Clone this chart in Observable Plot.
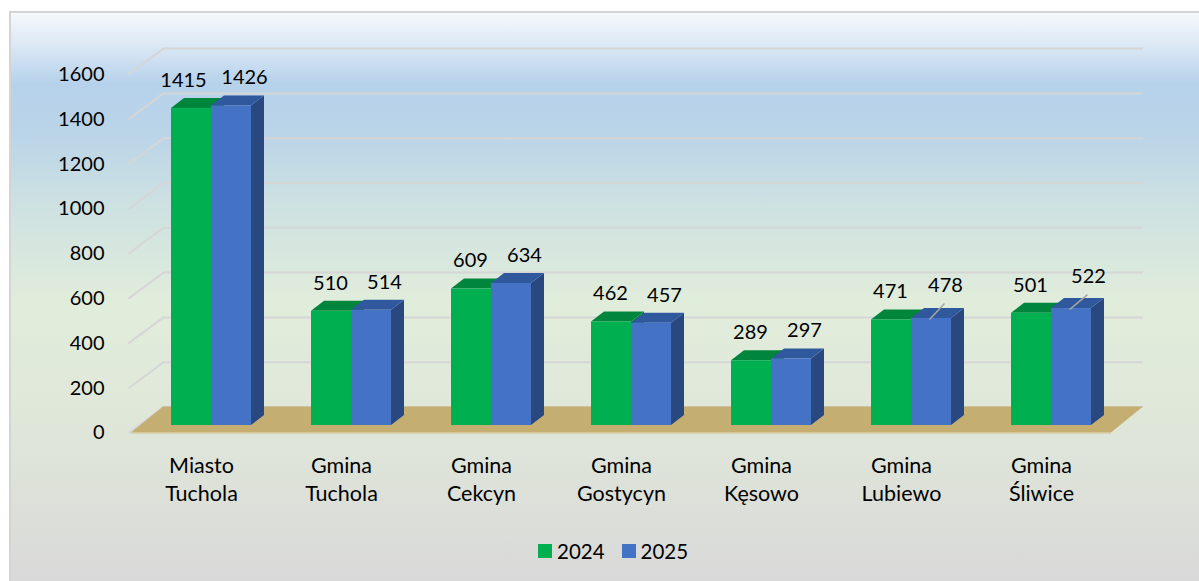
<!DOCTYPE html>
<html>
<head>
<meta charset="utf-8">
<script src="https://cdn.jsdelivr.net/npm/d3@7"></script>
<script src="https://cdn.jsdelivr.net/npm/@observablehq/plot@0.6"></script>
<style>
  html, body { margin: 0; padding: 0; background: #ffffff; }
  body { width: 1199px; height: 581px; overflow: hidden; position: relative; font-family: Lato, "Open Sans", sans-serif; }
  #bg { position: absolute; left: 9px; top: 11px; width: 1210px; height: 580px; box-sizing: border-box;
        border: 2px solid #d4d4d4;
        background: linear-gradient(to bottom, #f6f9fd 0px, #dae7f4 34px, #b6d2eb 70px, #bad4e8 120px, #cde1e2 190px, #e1eddb 290px, #dfe6d9 420px, #d9d9d9 570px); }
  #chart { position: absolute; left: 0; top: 0; }
  #legend { position: absolute; left: 538px; top: 539px; display: flex; align-items: center; font-size: 20.5px; color: #000; }
  #legend .sw { width: 14px; height: 14px; display: inline-block; margin-right: 5px; }
  #legend .item { display: flex; align-items: center; margin-right: 17px; }
</style>
</head>
<body>
<div id="bg"></div>
<div id="chart"></div>
<div id="legend"></div>
<script>
// ---- data ----
const categories = ["Miasto\nTuchola", "Gmina\nTuchola", "Gmina\nCekcyn", "Gmina\nGostycyn", "Gmina\nKęsowo", "Gmina\nLubiewo", "Gmina\nŚliwice"];
const years = ["2024", "2025"];
const values2024 = [1415, 510, 609, 462, 289, 471, 501];
const values2025 = [1426, 514, 634, 457, 297, 478, 522];
const yTicks = [0, 200, 400, 600, 800, 1000, 1200, 1400, 1600];

// ---- styles / layout ----
const frontColor = ["#00b050", "#4472c4"];
const topColor = ["#00853d", "#30589c"];
const sideColor = ["#00843c", "#2a4880"];
const xDomain = [0, categories.length - 1], xRange = [211, 1051];
const yDomain = [0, 1600], yRange = [425, 66.6];
const kx = (xRange[1] - xRange[0]) / (xDomain[1] - xDomain[0]);
const ky = (yRange[0] - yRange[1]) / (yDomain[1] - yDomain[0]);
const ux = px => px / kx;   // pixel offset -> x data units
const uy = px => px / ky;   // pixel offset (upwards) -> y data units
const barW = ux(40);
const depthX = ux(13), depthY = uy(10);
const frontDrop = uy(7.5), backRise = uy(18.5);
const frontAxisX = ux(-81), backLeft = ux(-48), backRight = ux(932);
const floorFrontL = ux(-80), floorFrontR = ux(900);
const labelShift = {"0-0": [-7, 0], "5-1": [1, -5], "6-1": [4, -4]};
const leaders = ["5-1", "6-1"];

// ---- derived table ----
const bars = [];
categories.forEach((c, i) => {
  [values2024, values2025].forEach((vals, s) => {
    const x1 = i - barW + s * barW;
    bars.push({key: i + "-" + s, i, s, v: vals[i], x1, x2: x1 + barW, xc: x1 + barW / 2});
  });
});
const sideData = s => bars.filter(b => b.s === s).flatMap(b => [
  {key: b.key, x: b.x2, y1: 0, y2: b.v},
  {key: b.key, x: b.x2 + depthX, y1: depthY, y2: b.v + depthY}
]);
const topData = s => bars.filter(b => b.s === s).flatMap(b => [
  {key: b.key, y: b.v, x1: b.x1, x2: b.x2},
  {key: b.key, y: b.v + depthY, x1: b.x1 + depthX, x2: b.x2 + depthX}
]);
const labelX = b => b.xc + ux((b.s === 0 ? -1 : 13) + (labelShift[b.key] ? labelShift[b.key][0] : 0));
const labelY = b => b.v + uy(28 - (labelShift[b.key] ? labelShift[b.key][1] : 0));
const leaderBars = bars.filter(b => leaders.includes(b.key));

const barMarks = [];
[0, 1].forEach(s => {
  barMarks.push(Plot.areaY(sideData(s), {x: "x", y1: "y1", y2: "y2", z: "key", fill: sideColor[s]}));
  barMarks.push(Plot.areaX(topData(s), {y: "y", x1: "x1", x2: "x2", z: "key", fill: topColor[s]}));
  barMarks.push(Plot.rect(bars.filter(b => b.s === s), {x1: "x1", x2: "x2", y1: 0, y2: "v", fill: frontColor[s]}));
});

const chart = Plot.plot({
  width: 1199,
  height: 530,
  x: {type: "linear", domain: xDomain, range: xRange, axis: null},
  y: {type: "linear", domain: yDomain, range: yRange, axis: null},
  style: {background: "transparent", overflow: "visible", fontFamily: "Lato, 'Open Sans', sans-serif", fontSize: "20px", color: "#000"},
  marks: [
    // back wall gridlines
    Plot.ruleY(yTicks, {y: d => d + backRise, x1: backLeft, x2: backRight, stroke: "#d6d6d6", strokeWidth: 2}),
    Plot.link(yTicks, {x1: frontAxisX + ux(-2), y1: d => d - frontDrop, x2: backLeft, y2: d => d + backRise, stroke: "#d6d6d6", strokeWidth: 2}),
    // floor
    Plot.areaX([{y: -frontDrop, x1: floorFrontL, x2: floorFrontR}, {y: backRise, x1: backLeft, x2: backRight}],
      {y: "y", x1: "x1", x2: "x2", fill: "#c4ae72"}),
    Plot.ruleY([-frontDrop], {x1: floorFrontL, x2: floorFrontR, stroke: "#d4c38c", strokeWidth: 1.2}),
    // bars
    ...barMarks,
    // leader lines
    Plot.link(leaderBars, {x1: b => b.x1 + ux(18), y1: b => b.v - uy(1), x2: b => labelX(b) - ux(1), y2: b => labelY(b) - uy(18), stroke: "#a6a6a6", strokeWidth: 1.5}),
    // value labels
    Plot.text(bars, {x: labelX, y: labelY, text: b => String(b.v), fill: "#000", fontSize: 20}),
    // y axis labels (front plane)
    Plot.text(yTicks, {x: frontAxisX + ux(-26), y: d => d - frontDrop, text: d => String(d), textAnchor: "end", fill: "#000", fontSize: 20}),
    // category labels
    Plot.text(categories, {x: (d, i) => i - ux(10), y: -uy(53), text: d => d, fill: "#000", fontSize: 21.5, lineHeight: 1.3})
  ]
});
document.getElementById("chart").appendChild(chart);

const legend = document.getElementById("legend");
years.forEach((y, s) => {
  const item = document.createElement("div");
  item.className = "item";
  item.innerHTML = `<span class="sw" style="background:${frontColor[s]}"></span><span>${y}</span>`;
  legend.appendChild(item);
});
</script>
</body>
</html>
